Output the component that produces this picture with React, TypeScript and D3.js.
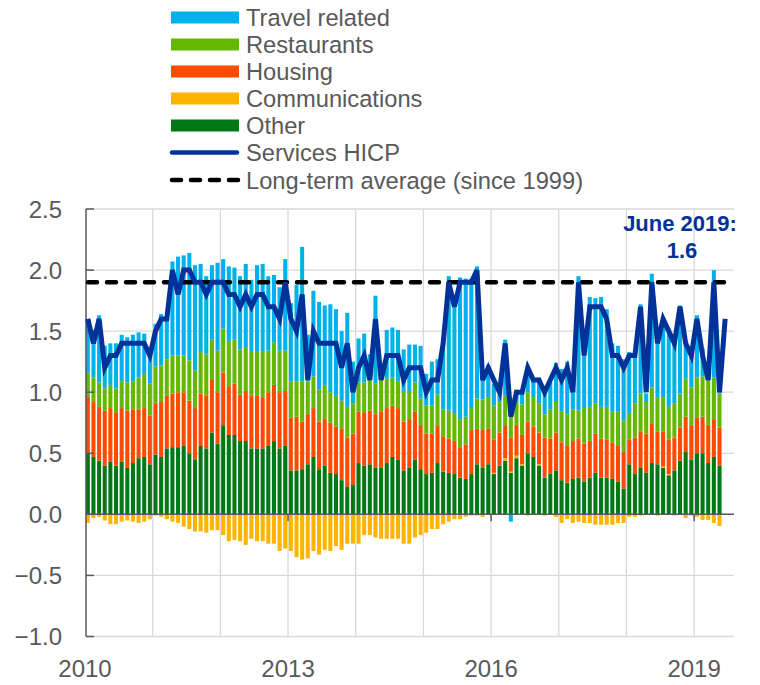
import React from 'react'
import * as d3 from 'd3'

// monthly contributions, Jan 2010 - May 2019 (bars); HICP line runs to Jun 2019
const months = d3.timeMonths(new Date(2010, 0, 1), new Date(2019, 6, 1))

const other = [
  0.50, 0.47, 0.44, 0.40, 0.43, 0.40, 0.43, 0.38, 0.42, 0.46, 0.47, 0.41,
  0.49, 0.47, 0.54, 0.55, 0.55, 0.56, 0.50, 0.45, 0.56, 0.54, 0.67, 0.58,
  0.73, 0.65, 0.65, 0.60, 0.60, 0.54, 0.54, 0.54, 0.56, 0.60, 0.54, 0.56,
  0.36, 0.36, 0.37, 0.41, 0.47, 0.37, 0.40, 0.34, 0.33, 0.28, 0.23, 0.24,
  0.42, 0.40, 0.41, 0.38, 0.38, 0.42, 0.47, 0.45, 0.36, 0.38, 0.45, 0.37,
  0.33, 0.34, 0.42, 0.35, 0.34, 0.33, 0.30, 0.29, 0.33, 0.41, 0.38, 0.41,
  0.33, 0.40, 0.44, 0.34, 0.46, 0.40, 0.50, 0.47, 0.40, 0.30, 0.33, 0.36,
  0.28, 0.26, 0.29, 0.30, 0.27, 0.30, 0.34, 0.30, 0.30, 0.29, 0.27, 0.21,
  0.41, 0.33, 0.38, 0.34, 0.42, 0.41, 0.38, 0.32, 0.36, 0.44, 0.51, 0.45,
  0.50, 0.50, 0.42, 0.47, 0.40,
]

const housing = [
  0.46, 0.45, 0.44, 0.45, 0.44, 0.43, 0.44, 0.47, 0.44, 0.40, 0.40, 0.40,
  0.42, 0.45, 0.43, 0.44, 0.45, 0.44, 0.43, 0.42, 0.43, 0.43, 0.43, 0.42,
  0.43, 0.40, 0.42, 0.38, 0.41, 0.43, 0.43, 0.42, 0.44, 0.46, 0.46, 0.45,
  0.43, 0.44, 0.39, 0.41, 0.40, 0.39, 0.38, 0.41, 0.39, 0.42, 0.40, 0.42,
  0.42, 0.43, 0.44, 0.44, 0.46, 0.45, 0.42, 0.42, 0.40, 0.40, 0.39, 0.36,
  0.33, 0.32, 0.31, 0.29, 0.28, 0.27, 0.25, 0.28, 0.36, 0.29, 0.31, 0.29,
  0.27, 0.27, 0.27, 0.28, 0.25, 0.24, 0.26, 0.25, 0.26, 0.33, 0.29, 0.31,
  0.31, 0.30, 0.31, 0.32, 0.31, 0.30, 0.32, 0.32, 0.31, 0.30, 0.29, 0.30,
  0.20, 0.30, 0.30, 0.32, 0.32, 0.27, 0.29, 0.28, 0.27, 0.27, 0.29, 0.28,
  0.29, 0.30, 0.31, 0.31, 0.31,
]

const restaurants = [
  0.20, 0.20, 0.20, 0.18, 0.19, 0.20, 0.22, 0.23, 0.23, 0.26, 0.28, 0.26,
  0.30, 0.30, 0.30, 0.31, 0.30, 0.30, 0.33, 0.31, 0.34, 0.34, 0.33, 0.34,
  0.36, 0.37, 0.36, 0.37, 0.36, 0.36, 0.36, 0.37, 0.34, 0.35, 0.34, 0.33,
  0.30, 0.29, 0.33, 0.27, 0.26, 0.26, 0.28, 0.25, 0.25, 0.23, 0.25, 0.25,
  0.24, 0.25, 0.25, 0.25, 0.26, 0.24, 0.23, 0.22, 0.25, 0.23, 0.24, 0.22,
  0.23, 0.23, 0.25, 0.22, 0.23, 0.23, 0.23, 0.23, 0.18, 0.25, 0.25, 0.26,
  0.28, 0.25, 0.24, 0.18, 0.19, 0.25, 0.24, 0.24, 0.24, 0.19, 0.24, 0.25,
  0.25, 0.26, 0.26, 0.23, 0.29, 0.28, 0.25, 0.26, 0.27, 0.25, 0.28, 0.26,
  0.22, 0.28, 0.31, 0.26, 0.30, 0.28, 0.28, 0.27, 0.28, 0.28, 0.31, 0.31,
  0.33, 0.33, 0.38, 0.34, 0.28,
]

const travel = [
  0.42, 0.39, 0.55, 0.35, 0.34, 0.37, 0.38, 0.37, 0.38, 0.37, 0.33, 0.25,
  0.35, 0.42, 0.35, 0.77, 0.81, 0.82, 0.88, 0.86, 0.72, 0.64, 0.61, 0.72,
  0.57, 0.61, 0.59, 0.60, 0.68, 0.59, 0.71, 0.72, 0.61, 0.55, 0.52, 0.75,
  0.64, 0.79, 1.10, 0.38, 0.70, 0.72, 0.65, 0.72, 0.71, 0.57, 0.77, 0.34,
  0.36, 0.40, 0.21, 0.72, 0.11, 0.40, 0.41, 0.42, 0.34, 0.38, 0.31, 0.43,
  0.26, 0.36, 0.29, 0.59, 1.10, 0.95, 1.16, 1.13, 1.06, 1.08, 0.21, 0.26,
  0.18, 0.08, 0.46, -0.06, 0.10, 0.10, 0.20, 0.15, 0.21, 0.21, 0.22, 0.32,
  0.35, 0.43, 0.21, 1.10, 0.51, 0.90, 0.86, 0.90, 0.80, 0.56, 0.54, 0.50,
  0.50, 0.42, 0.73, 0.07, 0.93, 0.46, 0.60, 0.64, 0.50, 0.72, 0.31, 0.29,
  0.51, 0.23, 0.06, 0.88, 0.10,
]

const communications = [
  -0.07, -0.03, -0.02, -0.05, -0.08, -0.08, -0.06, -0.05, -0.06, -0.07, -0.06, -0.04,
  -0.01, -0.02, -0.04, -0.06, -0.07, -0.10, -0.12, -0.14, -0.14, -0.15, -0.13, -0.13,
  -0.17, -0.22, -0.21, -0.22, -0.25, -0.20, -0.22, -0.22, -0.24, -0.24, -0.30, -0.28,
  -0.30, -0.35, -0.37, -0.36, -0.30, -0.33, -0.29, -0.30, -0.26, -0.29, -0.24, -0.24,
  -0.24, -0.17, -0.17, -0.19, -0.20, -0.20, -0.20, -0.20, -0.24, -0.24, -0.19, -0.17,
  -0.15, -0.12, -0.12, -0.08, -0.06, -0.04, -0.04, -0.02, -0.01, -0.01, -0.02, 0.0,
  0.01, 0.0, 0.02, 0.01, 0.02, 0.01, -0.01, 0.0, 0.01, -0.01, 0.0, -0.02,
  -0.07, -0.04, -0.07, -0.06, -0.07, -0.07, -0.085, -0.085, -0.085, -0.085, -0.07, -0.07,
  -0.02, -0.02, -0.01, 0.0, 0.0, -0.01, 0.01, 0.01, -0.01, 0.0, -0.03, -0.01,
  -0.02, -0.045, -0.045, -0.07, -0.095,
]

const servicesHicp = [
  1.6, 1.4, 1.6, 1.2, 1.3, 1.3, 1.4, 1.4, 1.4, 1.4, 1.4, 1.3,
  1.5, 1.6, 1.6, 2.0, 1.8, 2.0, 2.0, 1.9, 1.9, 1.8, 1.9, 1.9,
  1.9, 1.8, 1.8, 1.7, 1.8, 1.7, 1.8, 1.8, 1.7, 1.7, 1.6, 1.9,
  1.6, 1.5, 1.8, 1.1, 1.5, 1.4, 1.4, 1.4, 1.4, 1.2, 1.4, 1.0,
  1.2, 1.3, 1.1, 1.6, 1.1, 1.3, 1.3, 1.3, 1.1, 1.2, 1.2, 1.2,
  1.0, 1.1, 1.1, 1.4, 1.9, 1.7, 1.9, 1.9, 1.9, 2.0, 1.1, 1.2,
  1.1, 1.0, 1.4, 0.8, 1.0, 1.0, 1.2, 1.1, 1.1, 1.0, 1.1, 1.2,
  1.1, 1.2, 1.0, 1.9, 1.3, 1.7, 1.7, 1.7, 1.6, 1.3, 1.3, 1.2,
  1.3, 1.3, 1.7, 1.0, 1.9, 1.4, 1.6, 1.5, 1.4, 1.7, 1.4, 1.3,
  1.6, 1.3, 1.1, 1.9, 1.0, 1.6,
]

const longTermAverage = 1.9
const yTicks = [-1.0, -0.5, 0.0, 0.5, 1.0, 1.5, 2.0, 2.5]
const xTickYears = [2010, 2013, 2016, 2019]

const series = [
  { key: 'travel', name: 'Travel related', color: '#00b1ea', values: travel },
  { key: 'restaurants', name: 'Restaurants', color: '#65b800', values: restaurants },
  { key: 'housing', name: 'Housing', color: '#ff4b00', values: housing },
  { key: 'communications', name: 'Communications', color: '#ffb400', values: communications },
  { key: 'other', name: 'Other', color: '#007816', values: other },
]
const stackOrder = ['other', 'communications', 'housing', 'restaurants', 'travel']

const W = 760
const H = 685
const TEXT = '#595959'
const NAVY = '#003299'
const FONT = 'Arial, "Liberation Sans", sans-serif'

export default function App() {
  const x = d3
    .scaleBand<number>()
    .domain(d3.range(months.length))
    .range([85, 85 + 5.64 * months.length])
    .paddingInner(0.28)
    .paddingOuter(0.14)
  const step = x.step()
  const y = d3.scaleLinear().domain([-1, 2.5]).range([636.5, 209])
  const left = 86
  const right = 734

  const rows = other.map((_, i) => {
    const r: any = { i }
    series.forEach(s => (r[s.key] = s.values[i]))
    return r
  })
  const stacked = d3.stack().keys(stackOrder).offset(d3.stackOffsetDiverging)(rows)
  const colorOf = (k: string) => series.find(s => s.key === k)!.color

  const line = d3
    .line<number>()
    .x((_, i) => (x(i) as number) + x.bandwidth() / 2)
    .y(d => y(d))

  const yearStart = (yr: number) => {
    const i = months.findIndex(m => m.getFullYear() === yr && m.getMonth() === 0)
    return 85 + i * step
  }
  const gridYears = d3.range(2011, 2020)

  const legendRows = [
    ...series.map(s => ({ name: s.name, color: s.color, kind: 'rect' })),
    { name: 'Services HICP', color: NAVY, kind: 'line' },
    { name: 'Long-term average (since 1999)', color: '#000', kind: 'dash' },
  ]
  const legendY = [17.5, 44.5, 71.5, 98.5, 125.5, 152.5, 180]

  return (
    <svg width={W} height={H} style={{ position: 'absolute', left: 0, top: 0 }} fontFamily={FONT}>
      <rect width={W} height={H} fill="#fff" />
      {/* grid */}
      {yTicks.map(t => (
        <line key={t} x1={left} x2={right} y1={y(t)} y2={y(t)} stroke="#d9d9d9" strokeWidth={1.3} />
      ))}
      {gridYears.map(yr => (
        <line key={yr} x1={yearStart(yr)} x2={yearStart(yr)} y1={y(2.5)} y2={y(-1)} stroke="#d9d9d9" strokeWidth={1.3} />
      ))}
      {/* bars */}
      {stacked.map(layer => (
        <g key={layer.key} fill={colorOf(layer.key)}>
          {layer.map((d, i) =>
            d[1] === d[0] ? null : (
              <rect
                key={i}
                x={x(i)}
                width={x.bandwidth()}
                y={y(Math.max(d[0], d[1]))}
                height={Math.abs(y(d[0]) - y(d[1]))}
              />
            )
          )}
        </g>
      ))}
      {/* axes */}
      <line x1={left} x2={right} y1={y(0)} y2={y(0)} stroke={TEXT} strokeWidth={1.5} />
      {xTickYears.slice(1).map(yr => (
        <line key={yr} x1={yearStart(yr)} x2={yearStart(yr)} y1={y(0)} y2={y(0) + 7} stroke={TEXT} strokeWidth={1.5} />
      ))}
      <line x1={left} x2={left} y1={y(2.5)} y2={y(-1)} stroke={TEXT} strokeWidth={1.5} />
      {yTicks.map(t => (
        <line key={t} x1={left} x2={left + 8} y1={y(t)} y2={y(t)} stroke={TEXT} strokeWidth={1.5} />
      ))}
      {yTicks.map(t => (
        <text key={t} x={62} y={y(t)} dy="0.36em" textAnchor="end" fontSize={24} fill={TEXT}>
          {d3.format('.1f')(t)}
        </text>
      ))}
      {xTickYears.map(yr => (
        <text key={yr} x={yearStart(yr)} y={677} textAnchor="middle" fontSize={24} fill={TEXT}>
          {yr}
        </text>
      ))}
      {/* long-term average */}
      <line
        x1={88}
        x2={730}
        y1={y(longTermAverage)}
        y2={y(longTermAverage)}
        stroke="#000"
        strokeWidth={4.5}
        strokeDasharray="9 10"
        strokeLinecap="round"
      />
      {/* services HICP */}
      <path d={line(servicesHicp) || ''} fill="none" stroke={NAVY} strokeWidth={5} strokeLinejoin="miter" />
      <text x={680} y={231} textAnchor="middle" fontSize={22} fontWeight="bold" fill={NAVY}>
        June 2019:
      </text>
      <text x={682} y={258} textAnchor="middle" fontSize={22} fontWeight="bold" fill={NAVY}>
        {d3.format('.1f')(servicesHicp[servicesHicp.length - 1])}
      </text>
      {/* legend */}
      {legendRows.map((r, k) => (
        <g key={r.name} transform={`translate(0, ${legendY[k]})`}>
          {r.kind === 'rect' && <rect x={171} y={-6} width={68} height={12} fill={r.color} />}
          {r.kind === 'line' && (
            <line x1={172} x2={237} y1={0} y2={0} stroke={r.color} strokeWidth={4.5} strokeLinecap="round" />
          )}
          {r.kind === 'dash' && (
            <line
              x1={172}
              x2={238}
              y1={0}
              y2={0}
              stroke={r.color}
              strokeWidth={4.5}
              strokeDasharray="9 10"
              strokeLinecap="round"
            />
          )}
          <text x={246} y={0} dy="0.36em" fontSize={23.7} fill={TEXT}>
            {r.name}
          </text>
        </g>
      ))}
    </svg>
  )
}
